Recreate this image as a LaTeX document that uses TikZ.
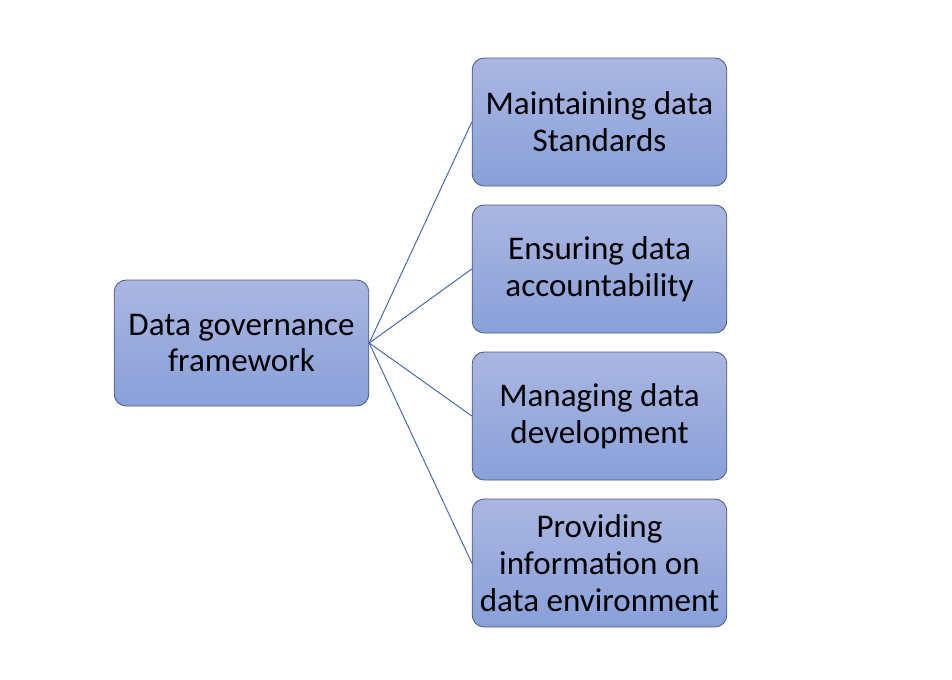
\documentclass[tikz,border=0pt]{standalone}
\usepackage{fontspec}
\setmainfont{Carlito}
\usetikzlibrary{positioning}
\definecolor{TopClr}{rgb}{0.667,0.714,0.882}
\definecolor{BotClr}{rgb}{0.533,0.627,0.851}
\definecolor{EdgeClr}{rgb}{0.29,0.35,0.5}
\definecolor{LineClr}{rgb}{0.25,0.38,0.67}

\tikzset{
  topicbox/.style={draw=EdgeClr,line width=0.6pt,rounded corners=9pt,
    top color=TopClr,bottom color=BotClr,
    minimum width=191pt,minimum height=96pt,align=center,
    font=\fontsize{24.8}{27.6}\selectfont,inner sep=1pt},
  branch/.style={draw=LineClr,line width=0.7pt}
}

\begin{document}
\begin{tikzpicture}[x=0.75pt,y=-0.75pt]
\useasboundingbox (0,0) rectangle (952,679);

\node[topicbox,minimum height=94.5pt] (gov) at (241.5,343) {Data governance\\framework};

\node[topicbox] (std) at (599.5,122) {Maintaining data\\Standards};
\node[topicbox] (acc) at (599.5,269) {Ensuring data\\accountability};
\node[topicbox] (dev) at (599.5,416) {Managing data\\development};
\node[topicbox] (env) at (599.5,563) {Providing\\information on\\data environment};

\foreach \n in {std,acc,dev,env}
  \draw[branch] (gov.east) -- (\n.west);

\end{tikzpicture}
\end{document}
